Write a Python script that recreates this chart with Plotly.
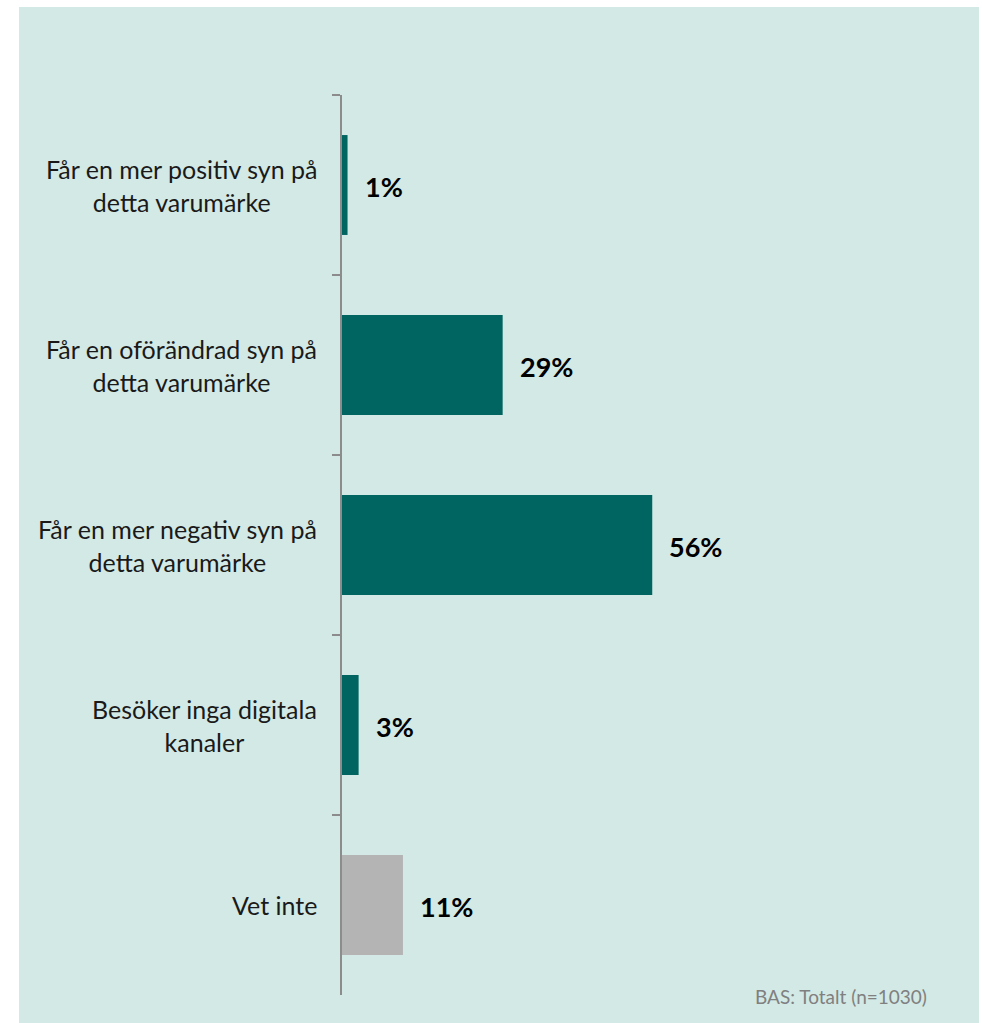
import plotly.graph_objects as go

categories = [
    "Får en mer positiv syn på<br>detta varumärke",
    "Får en oförändrad syn på<br>detta varumärke",
    "Får en mer negativ syn på<br>detta varumärke",
    "Besöker inga digitala<br>kanaler",
    "Vet inte",
]
values = [1, 29, 56, 3, 11]
value_labels = ["1%", "29%", "56%", "3%", "11%"]
bar_colors = ["#006461", "#006461", "#006461", "#006461", "#b4b4b4"]
footnote = "BAS: Totalt (n=1030)"

W, H = 982, 1023
ML, MR, MT, MB = 342, 40, 95, 28
px_per_pct = 5.54
xmax = (W - ML - MR) / px_per_pct

fig = go.Figure()
fig.add_trace(go.Bar(
    y=categories, x=values, orientation="h",
    marker=dict(color=bar_colors, line=dict(width=0)),
    width=0.555,
    hoverinfo="skip",
))

font_family = "Lato, 'Open Sans', sans-serif"

for c, v, t in zip(categories, values, value_labels):
    fig.add_annotation(x=v, y=c, xref="x", yref="y", text=t, showarrow=False,
                       xanchor="left", yanchor="middle", xshift=15, yshift=-1,
                       font=dict(family=font_family, size=27, color="#000000", weight="bold"))
    fig.add_annotation(x=0, y=c, xref="paper", yref="y", text=c, showarrow=False,
                       xanchor="right", yanchor="middle", align="center", xshift=-23,
                       font=dict(family=font_family, size=25, color="#1a1a1a"))

fig.add_annotation(x=(929 - ML) / (W - ML - MR), y=(H - MB - 997) / (H - MT - MB) + 0.0,
                   xref="paper", yref="paper", text=footnote, showarrow=False,
                   xanchor="right", yanchor="middle",
                   font=dict(family=font_family, size=19, color="#808080"))

# teal panel
pw = W - ML - MR
ph = H - MT - MB
fig.add_shape(type="rect", xref="paper", yref="paper", layer="below",
              x0=(19 - ML) / pw, x1=(979 - ML) / pw,
              y0=(H - MB - 1023) / ph, y1=(H - MB - 7) / ph,
              fillcolor="#d2e9e6", line=dict(width=0))

fig.update_layout(
    width=W, height=H,
    margin=dict(l=ML, r=MR, t=MT, b=MB, pad=0),
    paper_bgcolor="#ffffff",
    plot_bgcolor="#d2e9e6",
    showlegend=False,
    bargap=0.445,
)
fig.update_xaxes(range=[0, xmax], visible=False, showgrid=False, zeroline=False, fixedrange=True)
fig.update_yaxes(autorange="reversed", showticklabels=False, showgrid=False, zeroline=False,
                 showline=True, linecolor="#8c8c8c", linewidth=2,
                 ticks="outside", tickson="boundaries", ticklen=8, tickcolor="#8c8c8c", tickwidth=2,
                 fixedrange=True)

fig.write_html("out.html", config={"displayModeBar": False})
